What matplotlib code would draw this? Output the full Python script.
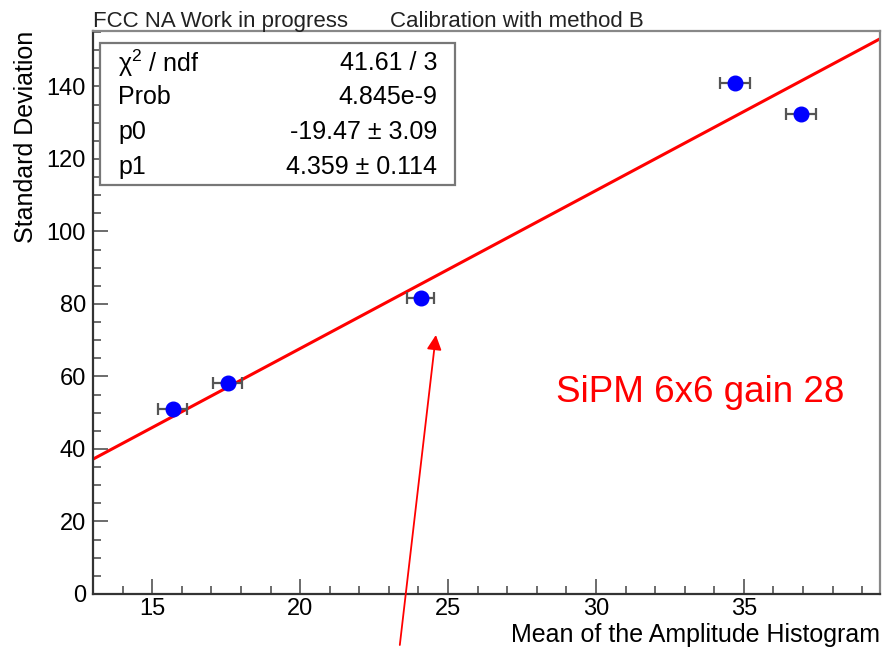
import numpy as np
import matplotlib
matplotlib.use("Agg")
import matplotlib.pyplot as plt
from matplotlib.patches import Rectangle
from matplotlib.ticker import MultipleLocator

plt.rcParams["font.family"] = ["Liberation Sans", "DejaVu Sans"]
plt.rcParams["mathtext.fontset"] = "custom"
plt.rcParams["mathtext.rm"] = "Liberation Sans"

# --- data ---
mean_amp = [15.69, 17.55, 24.07, 34.69, 36.92]
mean_err = [0.5, 0.5, 0.47, 0.5, 0.5]
std_dev = [50.95, 58.3, 81.6, 141.05, 132.3]

# fit pol1 results
p0 = -19.47
p1 = 4.359
stat_labels = ["χ$^{2}$ / ndf", "Prob", "p0", "p1"]
stat_values = ["41.61 / 3", "4.845e-9", "-19.47 ± 3.09", "4.359 ± 0.114"]

xmin, xmax = 13.0, 39.6
ymin, ymax = 0.0, 155.3

# ============================================================
# --- figure ---
# ============================================================
fig = plt.figure(figsize=(8.85, 6.49), dpi=100)
W, H = 885, 649
ax = fig.add_axes([93 / W, (H - 594) / H, (880 - 93) / W, (594 - 31) / H])

# fit line
xf = np.linspace(xmin, xmax, 200)
ax.plot(xf, p0 + p1 * xf, color="red", lw=2.2, zorder=2)

# points with errors
ax.errorbar(mean_amp, std_dev, xerr=mean_err, fmt="o", color="#0000ff",
            ms=10.5, ecolor="#555555", elinewidth=1.6, capsize=4,
            capthick=1.6, zorder=3)

ax.set_xlim(xmin, xmax)
ax.set_ylim(ymin, ymax)

ax.xaxis.set_major_locator(MultipleLocator(5))
ax.xaxis.set_minor_locator(MultipleLocator(1))
ax.yaxis.set_major_locator(MultipleLocator(20))
ax.yaxis.set_minor_locator(MultipleLocator(5))
ax.tick_params(which="both", direction="in", top=False, right=False,
               color="#444444", width=1.1, labelsize=17)
ax.tick_params(which="major", length=11)
ax.tick_params(which="minor", length=5.5)
ax.tick_params(axis="x", pad=3)
ax.tick_params(axis="y", pad=5)

for side in ["left", "bottom"]:
    ax.spines[side].set_color("#333333")
    ax.spines[side].set_linewidth(1.6)
for side in ["top", "right"]:
    ax.spines[side].set_color("#888888")
    ax.spines[side].set_linewidth(1.6)

ax.set_xlabel("Mean of the Amplitude Histogram", fontsize=18, loc="right", labelpad=2)
ax.set_ylabel("Standard Deviation", fontsize=18, loc="top", labelpad=6)

# --- stats box ---
def ax_x(px):
    return (px - 93) / (880 - 93)

def ax_y(py):
    return (594 - py) / (594 - 31)

ax.add_patch(Rectangle((ax_x(100), ax_y(185)), ax_x(455) - ax_x(100),
                       ax_y(43) - ax_y(185), transform=ax.transAxes,
                       facecolor="white", edgecolor="#777777", lw=1.6,
                       zorder=4))
row_y = [63, 97, 132, 167]
for lab, val, yy in zip(stat_labels, stat_values, row_y):
    ax.text(ax_x(118), ax_y(yy), lab, transform=ax.transAxes, fontsize=18,
            ha="left", va="center", zorder=5)
    ax.text(ax_x(437), ax_y(yy), val, transform=ax.transAxes, fontsize=18,
            ha="right", va="center", zorder=5)

# --- annotation ---
ax.text(28.65, 53.0, "SiPM 6x6 gain 28", color="red", fontsize=26.5,
        ha="left", va="baseline")
ax.annotate("", xy=(24.59, 71.45), xytext=(23.37, -14.07),
            arrowprops=dict(arrowstyle="-|>", color="red", lw=1.3,
                            mutation_scale=22, shrinkA=0, shrinkB=0),
            annotation_clip=False)

# --- titles ---
fig.text(93 / W, 1 - 27 / H, "FCC NA Work in progress", fontsize=16,
         color="#222222", ha="left", va="baseline")
fig.text(390 / W, 1 - 27 / H, "Calibration with method B", fontsize=16,
         color="#222222", ha="left", va="baseline")

fig.savefig("out.png", dpi=100)
